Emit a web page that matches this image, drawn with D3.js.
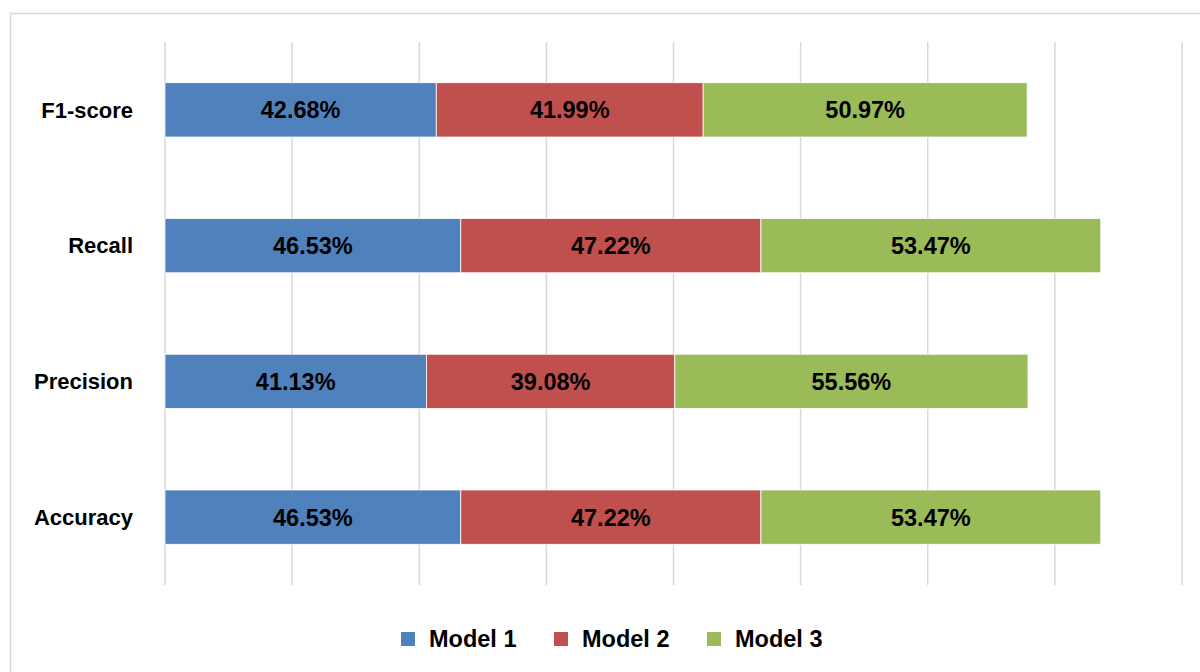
<!DOCTYPE html>
<html>
<head>
  <meta charset="utf-8">
  <title>Model metrics</title>
  <style>
    body {
      margin: 0;
      background: #fff;
      font-family: 'Liberation Sans', Arial, sans-serif;
    }
    .grid line {
      stroke: #d9d9d9;
      stroke-width: 1.5px;
    }
    .cat-label, .val-label, .legend text {
      font-weight: bold;
      fill: #000;
    }
  </style>
</head>
<body>
  <div id="chart"></div>
  <script src="https://d3js.org/d3.v7.min.js"></script>
  <script>
    // metrics, listed top to bottom
    var categories = ['F1-score', 'Recall', 'Precision', 'Accuracy'];
    var seriesNames = ['Model 1', 'Model 2', 'Model 3'];
    var model1 = [42.68, 46.53, 41.13, 46.53];
    var model2 = [41.99, 47.22, 39.08, 47.22];
    var model3 = [50.97, 53.47, 55.56, 53.47];
    var xTicks = [0, 20, 40, 60, 80, 100, 120, 140, 160];

    var colors = ['#4f81bd', '#c0504d', '#9bbb59'];

    var width = 1200, height = 672;
    var plot = { left: 165, right: 1182, top: 42, bottom: 585 };

    var svg = d3.select('#chart').append('svg')
      .attr('width', width)
      .attr('height', height);

    // chart frame
    svg.append('rect')
      .attr('x', 10.5).attr('y', 13.5)
      .attr('width', 1200).attr('height', 700)
      .attr('fill', 'none')
      .attr('stroke', '#d9d9d9')
      .attr('stroke-width', 1.5);

    var x = d3.scaleLinear().domain([0, 160]).range([plot.left, plot.right]);
    var y = d3.scaleBand().domain(categories)
      .range([plot.top, plot.bottom])
      .paddingInner(0.6).paddingOuter(0.3);

    // vertical gridlines
    svg.append('g').attr('class', 'grid')
      .selectAll('line')
      .data(xTicks)
      .enter().append('line')
      .attr('x1', d => x(d)).attr('x2', d => x(d))
      .attr('y1', plot.top).attr('y2', plot.bottom);

    var rows = categories.map(function(c, i) {
      return { cat: c, 'Model 1': model1[i], 'Model 2': model2[i], 'Model 3': model3[i] };
    });
    var stacked = d3.stack().keys(seriesNames)(rows);

    var layer = svg.selectAll('g.layer')
      .data(stacked)
      .enter().append('g')
      .attr('class', 'layer')
      .attr('fill', (d, i) => colors[i]);

    layer.selectAll('rect')
      .data(d => d)
      .enter().append('rect')
      .attr('x', d => x(d[0]))
      .attr('y', d => y(d.data.cat))
      .attr('width', d => x(d[1]) - x(d[0]))
      .attr('height', y.bandwidth())
      .attr('stroke', '#fff')
      .attr('stroke-width', 0.8);

    layer.selectAll('text')
      .data(d => d)
      .enter().append('text')
      .attr('class', 'val-label')
      .attr('x', d => (x(d[0]) + x(d[1])) / 2)
      .attr('y', d => y(d.data.cat) + y.bandwidth() / 2)
      .attr('dy', '0.36em')
      .attr('text-anchor', 'middle')
      .style('font-size', '23.5px')
      .text(d => (d[1] - d[0]).toFixed(2) + '%');

    // category labels
    svg.append('g').selectAll('text')
      .data(categories)
      .enter().append('text')
      .attr('class', 'cat-label')
      .attr('x', 133)
      .attr('y', d => y(d) + y.bandwidth() / 2)
      .attr('dy', '0.35em')
      .attr('text-anchor', 'end')
      .style('font-size', '22px')
      .text(d => d);

    // legend
    var legendX = [401, 554, 707];
    var lg = svg.append('g').attr('class', 'legend')
      .selectAll('g')
      .data(seriesNames)
      .enter().append('g')
      .attr('transform', (d, i) => 'translate(' + legendX[i] + ',632)');

    lg.append('rect')
      .attr('width', 14).attr('height', 14)
      .attr('fill', (d, i) => colors[i]);

    lg.append('text')
      .attr('x', 28).attr('y', 7)
      .attr('dy', '0.36em')
      .style('font-size', '23.5px')
      .text(d => d);
  </script>
</body>
</html>
